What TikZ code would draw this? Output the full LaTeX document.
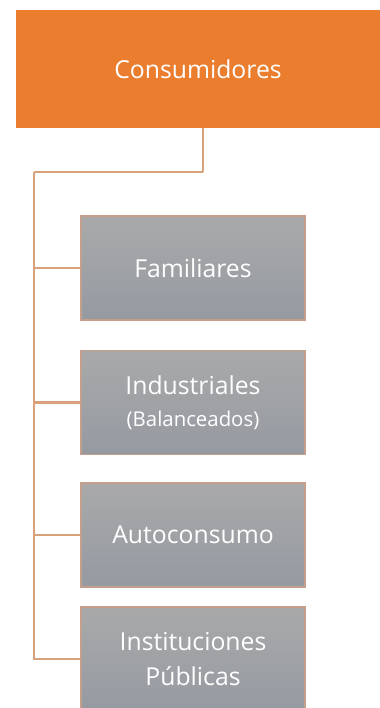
\documentclass[tikz,border=0pt]{standalone}
\usepackage{fontspec}
\setmainfont{Open Sans}
\usepackage{tikz}
\usetikzlibrary{positioning,calc}

\definecolor{naranja}{HTML}{EA7D2E}
\definecolor{grisarriba}{HTML}{A9A9AA}
\definecolor{grisabajo}{HTML}{959AA1}
\definecolor{borde}{HTML}{C4A08C}
\definecolor{linea}{HTML}{D8A27C}

\tikzset{
  raiz/.style={rectangle, fill=naranja, text=white, minimum width=9.1cm,
    minimum height=2.95cm, font=\fontsize{17.6}{22}\selectfont},
  hoja/.style={rectangle, top color=grisarriba, bottom color=grisabajo,
    draw=borde, line width=0.8pt, text=white, align=center,
    minimum width=5.6cm, minimum height=2.6cm,
    font=\fontsize{17.6}{25}\selectfont},
  rama/.style={draw=linea, line width=1.6pt}
}

\begin{document}
\begin{tikzpicture}
  \useasboundingbox[fill=white] (0,0) rectangle (9.5,-17.7);
  \node[raiz] (cons) at (4.95,-1.725) {Consumidores};
  \node[hoja] (fam) at (4.825,-6.7) {Familiares};
  \node[hoja] (ind) at (4.825,-10.06) {Industriales\\[-2pt]{\fontsize{14.5}{16}\selectfont(Balanceados)}};
  \node[hoja] (auto) at (4.825,-13.375) {Autoconsumo};
  \node[hoja] (inst) at (4.825,-16.475) {Instituciones\\Públicas};
  \coordinate (baja) at (5.075,-4.3);
  \coordinate (tronco) at (0.85,-4.3);
  \path[rama]
    (cons.south -| baja) edge (baja)
    (baja) edge (tronco)
    (tronco) edge[to path={|- (\tikztotarget)}] (inst.west)
    (tronco |- fam.west) edge (fam.west)
    (tronco |- ind.west) edge (ind.west)
    (tronco |- auto.west) edge (auto.west);
\end{tikzpicture}
\end{document}
